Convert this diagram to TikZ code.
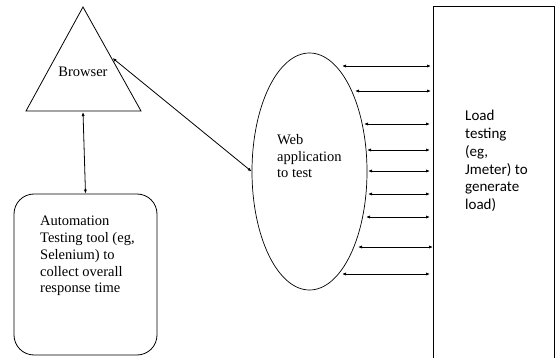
\documentclass[tikz,border=0pt]{standalone}
\usepackage{fontspec}
\setmainfont{Liberation Serif}
\newfontfamily\calib{Carlito}
\usetikzlibrary{arrows.meta,shapes.geometric}
\begin{document}
\begin{tikzpicture}[x=1pt,y=-1pt,
  dbl/.style={{Latex[length=4pt,width=3.2pt]}-{Latex[length=4pt,width=3.2pt]}, line width=0.8pt},
  outline/.style={draw, line width=0.8pt},
  serif/.style={font=\fontsize{14.5}{16.8}\selectfont, align=left, inner sep=0pt},
  sans/.style={font=\calib\fontsize{15}{17.8}\selectfont, align=left, inner sep=0pt}]
\useasboundingbox (0,0) rectangle (555,358);
\fill[white] (0,0) rectangle (555,358);
% triangle (browser)
\coordinate (tA) at (83,7);
\coordinate (tL) at (26,111);
\coordinate (tR) at (141,111);
\draw[line width=0.8pt, line join=miter] (tA) -- (tL) -- (tR) -- cycle;
\node[serif, anchor=center] (browser) at (83,72) {Browser};
\coordinate (tB) at (83,112);
\coordinate (tE) at (112.5,58);
% automation box
\node[outline, rounded corners=20pt, minimum width=143pt, minimum height=161pt, inner sep=0pt] (auto) at (85.5,274.5) {};
\node[serif, anchor=north west] (autotext) at (40,216) {Automation\\Testing tool (eg,\\Selenium) to\\collect overall\\response time};
% web application ellipse
\node[ellipse, draw, line width=0.7pt, minimum width=115pt, minimum height=237pt, inner sep=0pt] (web) at (309.5,171.5) {};
\node[serif, anchor=north west] (webtext) at (277,134) {Web\\application\\to test};
% load testing rectangle (open at bottom)
\coordinate (rBL) at (433,358);
\coordinate (rTL) at (433,7);
\coordinate (rTR) at (554,7);
\coordinate (rBR) at (554,358);
\draw[line width=1pt] (rBL) -- (rTL) -- (rTR) -- (rBR);
\node[sans, anchor=north west] (loadtext) at (465,110) {Load\\testing\\(eg,\\Jmeter) to\\generate\\load)};
% connectors
\draw[dbl] (tB) -- (auto.north);
\draw[dbl] (tE) -- (web.west);
\foreach \i/\y/\xl/\xr in {1/66/342/431, 2/91/355/431, 3/124/364/430, 4/150/367/430, 5/171/368/430, 6/194/368/430, 7/217/366/430, 8/247/358/433, 9/274/342/430} {
  \coordinate (l\i) at (\xl,\y);
  \coordinate (r\i) at (\xr,\y);
  \draw[dbl] (l\i) -- (r\i);
}
\end{tikzpicture}
\end{document}
